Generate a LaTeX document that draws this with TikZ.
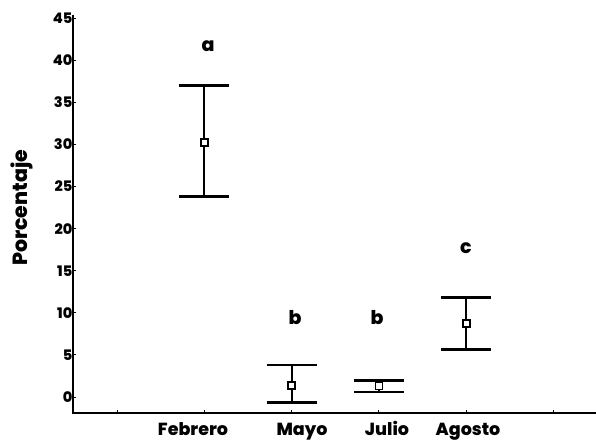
\documentclass[tikz,border=0pt]{standalone}
\usepackage{fontspec}
\setmainfont{Poppins}[BoldFont={Poppins ExtraBold}]
\begin{document}
\begin{tikzpicture}[x=1pt,y=1pt,
  lbl/.style={font=\bfseries\fontsize{17.5}{20}\selectfont, inner sep=1pt},
  catlbl/.style={lbl, anchor=base},
  sig/.style={font=\bfseries\fontsize{19}{22}\selectfont, inner sep=1pt},
  ticklbl/.style={font=\bfseries\fontsize{14.5}{16}\selectfont, inner sep=0.5pt, anchor=east},
  axisline/.style={line width=2.4pt},
  bar/.style={line width=2.2pt},
  capline/.style={line width=2.8pt},
  meanmark/.style={draw, fill=white, line width=1.6pt, minimum size=7pt, inner sep=0pt, rectangle}]
\useasboundingbox (0,0) rectangle (596,440);
% axes
\coordinate (o) at (73,27);
\coordinate (ytop) at (73,425);
\coordinate (xend) at (596,27);
\draw[axisline] (ytop) -- (o) -- (xend);
% y ticks
\foreach \v in {0,5,...,45}{
  \coordinate (yt\v) at (73,{43+8.42*\v});
  \draw[line width=1pt] (yt\v) -- ++(3,0);
  \node[ticklbl] (yl\v) at (yt\v) {\v};
}
% x ticks
\foreach \i in {0,...,5}{
  \coordinate (xt\i) at ({117+87.3*\i},27);
  \draw[line width=1pt] (xt\i) -- ++(0,3);
}
% y label
\node[lbl, font=\bfseries\fontsize{20.5}{22}\selectfont, rotate=90] (ylab) at (22,232) {Porcentaje};
% category labels
\node[catlbl] (cF) at (193,5) {Febrero};
\node[catlbl] (cM) at (302,5) {Mayo};
\node[catlbl] (cJ) at (387,5) {Julio};
\node[catlbl] (cA) at (468,5) {Agosto};
% error bars: name/x/mean/lo/hi
\foreach \n/\x/\m/\l/\h in {F/204.3/30.2/23.8/37.0, M/291.6/1.4/-0.7/3.8, J/378.9/1.3/0.6/2.0, A/466.2/8.7/5.6/11.8}{
  \coordinate (lo\n) at (\x,{43+8.42*\l});
  \coordinate (hi\n) at (\x,{43+8.42*\h});
  \draw[bar] (lo\n) -- (hi\n);
  \draw[capline] ([xshift=-25pt]lo\n) -- ([xshift=25pt]lo\n);
  \draw[capline] ([xshift=-25pt]hi\n) -- ([xshift=25pt]hi\n);
  \node[meanmark] (m\n) at (\x,{43+8.42*\m}) {};
}
% significance letters
\node[sig] (la) at (208,394) {a};
\node[sig] (lb1) at (295,122) {b};
\node[sig] (lb2) at (377,122) {b};
\node[sig] (lc) at (466,192) {c};
\end{tikzpicture}
\end{document}
